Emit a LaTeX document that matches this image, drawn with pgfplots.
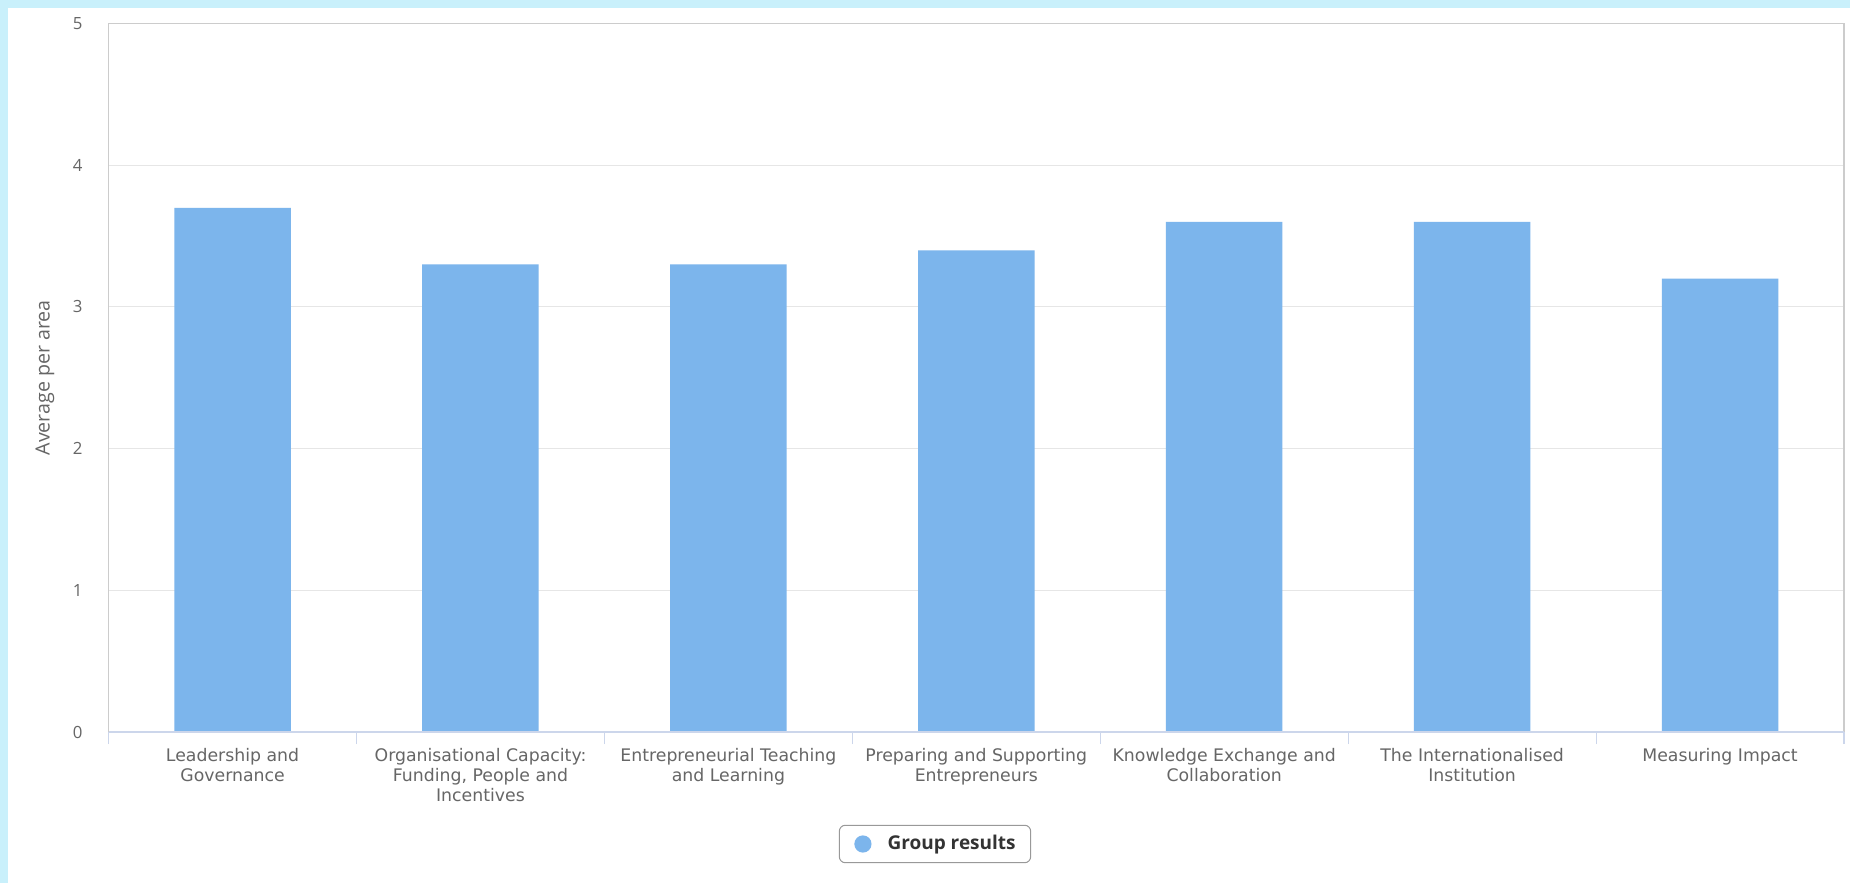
\documentclass[border=0pt]{standalone}
\usepackage{fontspec}
\setmainfont{Open Sans}
\newfontfamily\catfont{DejaVu Sans}
\usepackage{pgfplots}
\pgfplotsset{compat=1.18}

\definecolor{barblue}{HTML}{7CB5EC}
\definecolor{gridgray}{HTML}{E6E6E6}
\definecolor{bordergray}{HTML}{CCCCCC}
\definecolor{axisblue}{HTML}{CCD6EB}
\definecolor{labelgray}{HTML}{666666}
\definecolor{textdark}{HTML}{333333}
\definecolor{legendgray}{HTML}{999999}
\definecolor{framecyan}{RGB}{201,240,251}

\begin{document}
\begin{tikzpicture}
% page background and the cyan frame on the top and left
\fill[white] (0,0) rectangle (925pt,441.5pt);
\fill[framecyan] (0,437.5pt) rectangle (925pt,441.5pt);
\fill[framecyan] (0,0) rectangle (4pt,441.5pt);

\begin{axis}[
    at={(54.3pt,75.5pt)}, anchor=south west,
    scale only axis,
    width=867.7pt, height=354.2pt,
    xmin=-0.5, xmax=6.5,
    ymin=0, ymax=5,
    ybar, bar width=0.47,
    clip=false,
    axis line style={draw=none},
    tick pos=left,
    xtick={0,...,6},
    xticklabels={
        {Leadership and\\Governance},
        {Organisational Capacity:\\Funding, People and\\Incentives},
        {Entrepreneurial Teaching\\and Learning},
        {Preparing and Supporting\\Entrepreneurs},
        {Knowledge Exchange and\\Collaboration},
        {The Internationalised\\Institution},
        {Measuring Impact}},
    xticklabel style={
        align=center, anchor=north, inner sep=0pt, yshift=-8pt,
        font=\catfont\fontsize{8.65}{10}\selectfont, text=labelgray},
    ytick={0,...,5},
    yticklabel style={
        anchor=east, inner sep=0pt, xshift=-12.8pt,
        font=\fontsize{8.4}{10}\selectfont, text=labelgray},
    /pgf/number format/assume math mode=true,
    major tick length=0pt,
    ymajorgrids,
    grid style={gridgray, line width=0.5pt},
    extra x ticks={-0.5,0.5,...,6.5},
    extra x tick labels={},
    extra x tick style={
        grid=none, major tick length=6pt, tick align=outside,
        tick style={draw=axisblue, line width=0.6pt}},
    legend style={
        at={(0.4762,-0.1581)}, anchor=center,
        draw=legendgray, line width=0.5pt, rounded corners=3pt,
        inner xsep=7.5pt, inner ysep=5pt,
        font=\fontsize{9.5}{10}\selectfont\bfseries, text=textdark,
        nodes={inner sep=0pt},
        /tikz/every odd column/.append style={column sep=8pt}},
    legend image code/.code={\fill[barblue] (4.3pt,0pt) circle (4.3pt);},
]
\addplot[fill=barblue, draw=none] coordinates {
    (0,3.7) (1,3.3) (2,3.3) (3,3.4) (4,3.6) (5,3.6) (6,3.2)};
\addlegendentry{Group results}

% plot border: grey on three sides, blue-grey axis line at the bottom
\draw[bordergray, line width=0.75pt]
    (rel axis cs:0,0) -- (rel axis cs:0,1) -- (rel axis cs:1,1) -- (rel axis cs:1,0);
\draw[axisblue, line width=0.6pt] (rel axis cs:0,0) -- (rel axis cs:1,0);
\end{axis}

\node[rotate=90, text=labelgray, font=\fontsize{9.8}{11}\selectfont]
    at (22.5pt,252.6pt) {Average per area};

\pgfresetboundingbox
\useasboundingbox (0,0) rectangle (925pt,441.5pt);
\end{tikzpicture}
\end{document}
